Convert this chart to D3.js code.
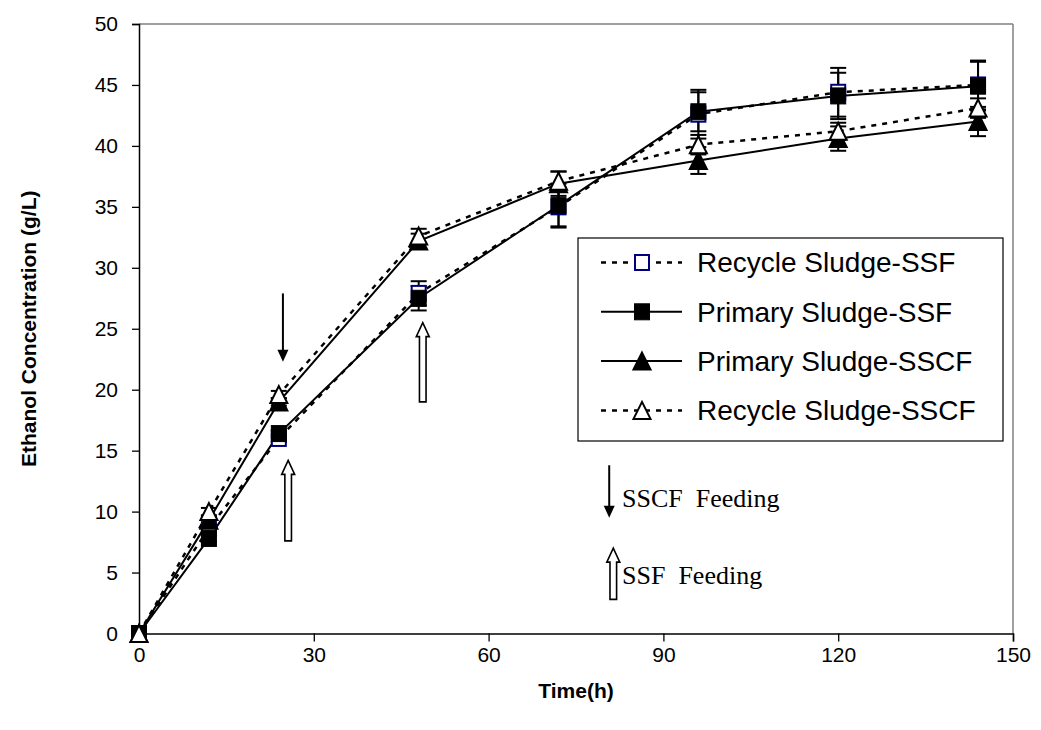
<!DOCTYPE html>
<html>
<head>
<meta charset="utf-8">
<script src="https://cdn.jsdelivr.net/npm/d3@7"></script>
<style>
  html, body { margin: 0; padding: 0; background: #fff; }
  svg { display: block; }
</style>
</head>
<body>
<svg id="chart" width="1041" height="730"></svg>
<script>
// ---- data ----
const hours = [0, 12, 24, 48, 72, 96, 120, 144];
const seriesNames = ["Recycle Sludge-SSF", "Primary Sludge-SSF", "Primary Sludge-SSCF", "Recycle Sludge-SSCF"];
const recycleSSF  = [0, 8.65, 16.0, 27.9, 35.0, 42.6, 44.4, 45.0];
const primarySSF  = [0, 7.8, 16.4, 27.5, 35.1, 42.8, 44.1, 44.9];
const primarySSCF = [0, 9.3, 19.0, 32.2, 36.9, 38.8, 40.6, 42.0];
const recycleSSCF = [0, 10.0, 19.6, 32.6, 37.1, 40.1, 41.2, 43.1];
const recycleSSFErr  = [0, 0.3, 0.3, 1.0, 1.6, 2.0, 2.0, 2.0];
const primarySSFErr  = [0, 0.3, 0.3, 1.0, 1.8, 1.6, 1.9, 2.0];
const primarySSCFErr = [0, 0.3, 0.3, 0.6, 1.0, 1.1, 1.0, 1.2];
const recycleSSCFErr = [0, 0.3, 0.3, 0.6, 0.8, 0.8, 0.7, 0.8];
const xTicks = [0, 30, 60, 90, 120, 150];
const yTicks = [0, 5, 10, 15, 20, 25, 30, 35, 40, 45, 50];
// feeding annotations: [x, yStart, yEnd] in data units
const sscfFeedArrows = [[24.7, 27.9, 22.3]];
const ssfFeedArrows = [[25.6, 7.6, 14.2], [48.7, 19.0, 25.5]];
const noteSSCF = { x: 80.7, y0: 13.8, y1: 9.5, tx: 82.9, ty: 11.1, text: "SSCF  Feeding" };
const noteSSF = { x: 81.4, y0: 2.8, y1: 7.0, tx: 82.9, ty: 4.8, text: "SSF  Feeding" };

// ---- layout ----
const L = 139, R = 1013, T = 24, B = 633.5;
const svg = d3.select("#chart");
svg.append("rect").attr("width", 1041).attr("height", 730).attr("fill", "#fff");

const x = d3.scaleLinear().domain([0, 150]).range([L, R]);
const y = d3.scaleLinear().domain([0, 50]).range([B, T]);

const series = [
  { name: seriesNames[0], vals: recycleSSF,  err: recycleSSFErr,  dash: "5,6", marker: "sqOpen" },
  { name: seriesNames[1], vals: primarySSF,  err: primarySSFErr,  dash: null,  marker: "sqFill" },
  { name: seriesNames[2], vals: primarySSCF, err: primarySSCFErr, dash: null,  marker: "triFill" },
  { name: seriesNames[3], vals: recycleSSCF, err: recycleSSCFErr, dash: "5,6", marker: "triOpen" }
];

// plot border (gray)
svg.append("line").attr("x1", L).attr("x2", R).attr("y1", T).attr("y2", T).attr("stroke", "#808080").attr("stroke-width", 1.5);
svg.append("line").attr("x1", R).attr("x2", R).attr("y1", T).attr("y2", B).attr("stroke", "#808080").attr("stroke-width", 1.5);

// axes
const fontSans = "Arial, 'Liberation Sans', sans-serif";
const xAxis = svg.append("g").attr("transform", `translate(0,${B})`)
  .call(d3.axisBottom(x).tickValues(xTicks).tickSize(8).tickPadding(6).tickFormat(d3.format("d")));
const yAxis = svg.append("g").attr("transform", `translate(${L},0)`)
  .call(d3.axisLeft(y).tickValues(yTicks).tickSize(7).tickPadding(14).tickFormat(d3.format("d")));
[xAxis, yAxis].forEach(g => {
  g.select(".domain").attr("stroke", "#000").attr("stroke-width", 1.5);
  g.selectAll(".tick line").attr("stroke", "#000").attr("stroke-width", 1.3);
  g.selectAll(".tick text").attr("fill", "#000").style("font-family", fontSans).style("font-size", "21px");
});

// axis titles
svg.append("text").attr("x", (L + R) / 2).attr("y", 698).attr("text-anchor", "middle")
  .style("font-family", fontSans).style("font-size", "21px").style("font-weight", "bold").text("Time(h)");
svg.append("text").attr("transform", `translate(36,${(T + B) / 2}) rotate(-90)`).attr("text-anchor", "middle")
  .style("font-family", fontSans).style("font-size", "21px").style("font-weight", "bold")
  .text("Ethanol Concentration (g/L)");

// lines
const line = d3.line().x((d, i) => x(hours[i])).y(d => y(d));
series.forEach(s => {
  svg.append("path").datum(s.vals).attr("d", line).attr("fill", "none")
    .attr("stroke", "#000").attr("stroke-width", s.dash ? 2.5 : 2)
    .attr("stroke-dasharray", s.dash);
});

// error bars
const capW = 8;
series.forEach(s => {
  const g = svg.append("g").attr("stroke", "#000").attr("stroke-width", 2);
  hours.forEach((h, i) => {
    const e = s.err[i];
    if (!e) return;
    const cx = x(h), yt = y(s.vals[i] + e), yb = y(s.vals[i] - e);
    g.append("line").attr("x1", cx).attr("x2", cx).attr("y1", yt).attr("y2", yb);
    g.append("line").attr("x1", cx - capW).attr("x2", cx + capW).attr("y1", yt).attr("y2", yt);
    g.append("line").attr("x1", cx - capW).attr("x2", cx + capW).attr("y1", yb).attr("y2", yb);
  });
});

// markers
function drawMarker(g, type, cx, cy) {
  if (type === "sqOpen") {
    g.append("rect").attr("x", cx - 7).attr("y", cy - 7.5).attr("width", 14).attr("height", 15)
      .attr("fill", "#fff").attr("stroke", "#000080").attr("stroke-width", 2);
  } else if (type === "sqFill") {
    g.append("rect").attr("x", cx - 7.5).attr("y", cy - 8).attr("width", 15).attr("height", 16)
      .attr("fill", "#000").attr("stroke", "#000").attr("stroke-width", 1);
  } else {
    const w = 8.5, h = 8.5;
    const pts = [[cx, cy - h], [cx + w, cy + h], [cx - w, cy + h]];
    g.append("path").attr("d", "M" + pts.map(p => p.join(",")).join("L") + "Z")
      .attr("fill", type === "triFill" ? "#000" : "#fff").attr("stroke", "#000").attr("stroke-width", 2)
      .attr("stroke-linejoin", "miter");
  }
}
series.forEach(s => {
  const g = svg.append("g");
  hours.forEach((h, i) => drawMarker(g, s.marker, x(h), y(s.vals[i])));
});

// arrows
function solidArrow(ax, y0, y1) { // from y0 (top) downward to y1
  const px = x(ax), pTop = y(y0), pTip = y(y1);
  svg.append("line").attr("x1", px).attr("x2", px).attr("y1", pTop).attr("y2", pTip - 10)
    .attr("stroke", "#000").attr("stroke-width", 2);
  svg.append("path").attr("d", `M${px - 5.5},${pTip - 12}L${px + 5.5},${pTip - 12}L${px},${pTip}Z`).attr("fill", "#000");
}
function hollowArrow(ax, yBottom, yTip) { // pointing up
  const px = x(ax), pb = y(yBottom), pt = y(yTip);
  const sw = 3.3, hw = 6.5, hh = 14;
  const d = `M${px - sw},${pb}L${px - sw},${pt + hh}L${px - hw},${pt + hh}L${px},${pt}L${px + hw},${pt + hh}L${px + sw},${pt + hh}L${px + sw},${pb}Z`;
  svg.append("path").attr("d", d).attr("fill", "#fff").attr("stroke", "#000").attr("stroke-width", 1.6);
}
sscfFeedArrows.forEach(a => solidArrow(a[0], a[1], a[2]));
ssfFeedArrows.forEach(a => hollowArrow(a[0], a[1], a[2]));
solidArrow(noteSSCF.x, noteSSCF.y0, noteSSCF.y1);
hollowArrow(noteSSF.x, noteSSF.y0, noteSSF.y1);
const fontSerif = "'Times New Roman', 'Liberation Serif', serif";
[noteSSCF, noteSSF].forEach(n => {
  svg.append("text").attr("x", x(n.tx)).attr("y", y(n.ty)).attr("dy", "0.35em")
    .attr("xml:space", "preserve").style("white-space", "pre")
    .style("font-family", fontSerif).style("font-size", "26px").text(n.text);
});

// legend
const lg = svg.append("g");
lg.append("rect").attr("x", 578).attr("y", 238).attr("width", 425).attr("height", 203)
  .attr("fill", "#fff").attr("stroke", "#000").attr("stroke-width", 1.2);
series.forEach((s, i) => {
  const ry = 262.5 + i * 49.3;
  lg.append("line").attr("x1", 601).attr("x2", 682).attr("y1", ry).attr("y2", ry)
    .attr("stroke", "#000").attr("stroke-width", s.dash ? 2.5 : 2).attr("stroke-dasharray", s.dash);
  drawMarker(lg, s.marker, 642, ry);
  lg.append("text").attr("x", 697).attr("y", ry).attr("dy", "0.35em")
    .style("font-family", fontSans).style("font-size", "28px").text(s.name);
});
</script>
</body>
</html>
